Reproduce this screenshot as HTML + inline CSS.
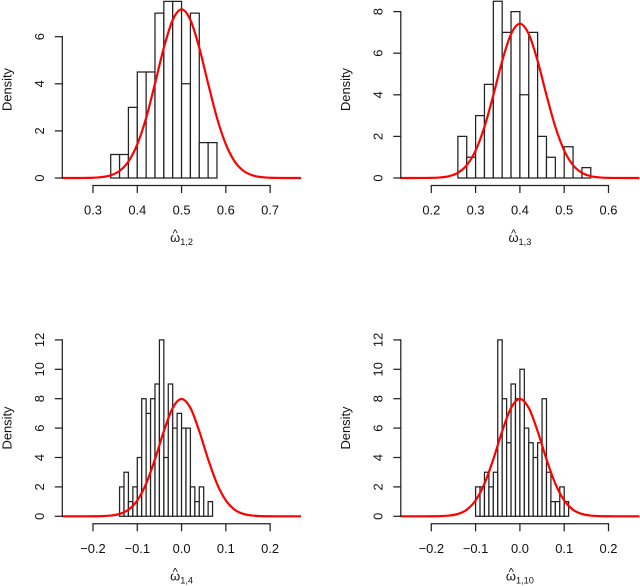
<!DOCTYPE html>
<html>
<head>
<meta charset="utf-8">
<title>Histograms</title>
<style>
html,body{margin:0;padding:0;background:#fff;}
svg{display:block;filter:blur(0.3px);}
text{font-family:"Liberation Sans",sans-serif;fill:#111;}
</style>
</head>
<body>
<svg id="chart" width="640" height="586" viewBox="0 0 640 586" xmlns="http://www.w3.org/2000/svg"></svg>
<script>
// Panel 1 data
const p1Start = 0.34;
const p1Width = 0.02;
const p1Heights = [1,1,3,4.5,4.5,7,7.5,7.5,4,7,1.5,1.5];
const p1CurveX = [0.23,0.24,0.26,0.28,0.30,0.32,0.34,0.36,0.38,0.40,0.42,0.44,0.46,0.48,0.50,0.52,0.54,0.56,0.58,0.60,0.62,0.64,0.66,0.68,0.70,0.72,0.74,0.76,0.77];
const p1CurveY = [0,0,0.001,0.003,0.011,0.039,0.115,0.30,0.70,1.43,2.55,4.01,5.53,6.71,7.16,6.71,5.53,4.01,2.55,1.43,0.70,0.30,0.115,0.039,0.011,0.003,0.001,0,0];
const p1XTicks = [0.3,0.4,0.5,0.6,0.7];
const p1XLabels = ["0.3","0.4","0.5","0.6","0.7"];
const p1YTicks = [0,2,4,6];

// Panel 2 data
const p2Start = 0.26;
const p2Width = 0.02;
const p2Heights = [2,1,3,4.5,8.5,7,8,4,7,2,1,0,1.5,0,0.5];
const p2CurveX = [0.13,0.14,0.16,0.18,0.20,0.22,0.24,0.26,0.28,0.30,0.32,0.34,0.36,0.38,0.40,0.42,0.44,0.46,0.48,0.50,0.52,0.54,0.56,0.58,0.60,0.62,0.64,0.66,0.67];
const p2CurveY = [0,0,0,0.002,0.007,0.027,0.089,0.251,0.617,1.32,2.46,3.98,5.63,6.92,7.42,6.92,5.63,3.98,2.46,1.32,0.617,0.251,0.089,0.027,0.007,0.002,0,0,0];
const p2XTicks = [0.2,0.3,0.4,0.5,0.6];
const p2XLabels = ["0.2","0.3","0.4","0.5","0.6"];
const p2YTicks = [0,2,4,6,8];

// Panel 3 data
const p3Start = -0.14;
const p3Width = 0.01;
const p3Heights = [2,3,1,2,4,8,7,8,9,12,4,9,6,7,6,6,2,1,2,0,1];
const p3CurveX = [-0.27,-0.26,-0.24,-0.22,-0.20,-0.18,-0.16,-0.14,-0.12,-0.10,-0.08,-0.06,-0.04,-0.02,0,0.02,0.04,0.06,0.08,0.10,0.12,0.14,0.16,0.18,0.20,0.22,0.24,0.26,0.27];
const p3CurveY = [0,0,0,0,0.002,0.012,0.048,0.158,0.448,1.08,2.22,3.88,5.79,7.37,7.98,7.37,5.79,3.88,2.22,1.08,0.448,0.158,0.048,0.012,0.002,0,0,0,0];
const p3XTicks = [-0.2,-0.1,0,0.1,0.2];
const p3XLabels = ["\u22120.2","\u22120.1","0.0","0.1","0.2"];
const p3YTicks = [0,2,4,6,8,10,12];

// Panel 4 data
const p4Start = -0.10;
const p4Width = 0.01;
const p4Heights = [2,2,3,2,3,12,8,5,9,8,10,6,5,4,5,8,3,1,1,2,1];
const p4CurveX = [-0.27,-0.26,-0.24,-0.22,-0.20,-0.18,-0.16,-0.14,-0.12,-0.10,-0.08,-0.06,-0.04,-0.02,0,0.02,0.04,0.06,0.08,0.10,0.12,0.14,0.16,0.18,0.20,0.22,0.24,0.26,0.27];
const p4CurveY = [0,0,0,0,0.002,0.012,0.048,0.158,0.448,1.08,2.22,3.88,5.79,7.37,7.98,7.37,5.79,3.88,2.22,1.08,0.448,0.158,0.048,0.012,0.002,0,0,0,0];
const p4XTicks = [-0.2,-0.1,0,0.1,0.2];
const p4XLabels = ["\u22120.2","\u22120.1","0.0","0.1","0.2"];
const p4YTicks = [0,2,4,6,8,10,12];

const NS = "http://www.w3.org/2000/svg";
const root = document.getElementById("chart");
const FONT = 12.9;
const INK = "#222";
const LINE = 1.25;

function make(tag, attrs, parent){
  const el = document.createElementNS(NS, tag);
  for (const k in attrs) el.setAttribute(k, attrs[k]);
  parent.appendChild(el);
  return el;
}

function drawPanel(cfg){
  const g = make("g", {}, root);
  
  
  const sx = v => cfg.x0 + (v - cfg.v0) * cfg.kx;
  const sy = v => cfg.y0 - v * cfg.ky;

  // histogram bars (paths, so empty bins still draw their baseline)
  cfg.heights.forEach((h, i) => {
    const a = sx(cfg.start + i * cfg.width);
    const b = sx(cfg.start + (i + 1) * cfg.width);
    const barPath = "M" + a + " " + sy(0) + " V" + sy(h) + " H" + b + " V" + sy(0) + " Z";
    const bar = make("path", {d:barPath, fill:"#fff", stroke:INK, "stroke-width":LINE}, g);
    
    
  });

  // density curve (Catmull-Rom through read-off points)
  const pts = cfg.curveX.map((x, i) => [sx(x), sy(cfg.curveY[i])]);
  let d = "M" + pts[0][0] + " " + pts[0][1];
  for (let i = 0; i < pts.length - 1; i++){
    const p0 = pts[Math.max(i-1,0)], p1 = pts[i], p2 = pts[i+1], p3 = pts[Math.min(i+2,pts.length-1)];
    d += " C" + (p1[0]+(p2[0]-p0[0])/6) + " " + (p1[1]+(p2[1]-p0[1])/6) + " " +
         (p2[0]-(p3[0]-p1[0])/6) + " " + (p2[1]-(p3[1]-p1[1])/6) + " " + p2[0] + " " + p2[1];
  }
  const curve = make("path", {d:d, fill:"none", stroke:"#f00", "stroke-width":2.2}, g);
  
  

  // x axis
  const xa = make("g", {stroke:INK, "stroke-width":LINE}, g);
  
  
  const first = sx(cfg.xTicks[0]), last = sx(cfg.xTicks[cfg.xTicks.length-1]);
  make("line", {x1:first, x2:last, y1:cfg.y0+7.5, y2:cfg.y0+7.5, "stroke-linecap":"square"}, xa);
  cfg.xTicks.forEach((t, i) => {
    make("line", {x1:sx(t), x2:sx(t), y1:cfg.y0+7.5, y2:cfg.y0+15}, xa);
    const lab = make("text", {x:sx(t), y:cfg.y0+36.7, "text-anchor":"middle", "font-size":FONT, stroke:"none"}, xa);
    lab.textContent = cfg.xLabels[i];
    
    
  });

  // y axis
  const ya = make("g", {stroke:INK, "stroke-width":LINE}, g);
  
  
  const yTop = sy(cfg.yTicks[cfg.yTicks.length-1]);
  make("line", {x1:cfg.axisX, x2:cfg.axisX, y1:sy(0), y2:yTop, "stroke-linecap":"square"}, ya);
  cfg.yTicks.forEach(t => {
    make("line", {x1:cfg.axisX-7.5, x2:cfg.axisX, y1:sy(t), y2:sy(t)}, ya);
    const lx = cfg.axisX - 18.5;
    const lab = make("text", {x:lx, y:sy(t), "text-anchor":"middle", "font-size":FONT, stroke:"none", transform:"rotate(-90 "+lx+" "+sy(t)+")"}, ya);
    lab.textContent = String(t);
    
    
  });

  // y axis title
  const tx = cfg.axisX - 51, ty = cfg.titleY;
  const yt = make("text", {x:tx, y:ty, "text-anchor":"middle", "font-size":FONT, transform:"rotate(-90 "+tx+" "+ty+")"}, g);
  yt.textContent = "Density";
  
  

  // x axis title
  const cx = sx(cfg.center);
  const xt = make("text", {x:cx, y:cfg.y0+64, "text-anchor":"middle", "font-size":FONT}, g);
  
  
  const om = make("tspan", {}, xt);
  om.textContent = "\u03C9";
  const sub = make("tspan", {dy:3, "font-size":9.2}, xt);
  sub.textContent = cfg.sub;
  const hat = make("text", {x:cx - cfg.hatShift, y:cfg.y0+59, "text-anchor":"middle", "font-size":11}, g);
  hat.textContent = "^";
  
  
}

drawPanel({name:"panel-omega-1-2", x0:93, v0:0.3, kx:442.8, y0:178, ky:23.55, axisX:62.3,
  start:p1Start, width:p1Width, heights:p1Heights, curveX:p1CurveX, curveY:p1CurveY,
  xTicks:p1XTicks, xLabels:p1XLabels, yTicks:p1YTicks, center:0.5, sub:"1,2", hatShift:6.3, titleY:89.5});
drawPanel({name:"panel-omega-1-3", x0:431.3, v0:0.2, kx:443, y0:178, ky:20.8, axisX:400.8,
  start:p2Start, width:p2Width, heights:p2Heights, curveX:p2CurveX, curveY:p2CurveY,
  xTicks:p2XTicks, xLabels:p2XLabels, yTicks:p2YTicks, center:0.4, sub:"1,3", hatShift:6.3, titleY:89.5});
drawPanel({name:"panel-omega-1-4", x0:93, v0:-0.2, kx:442.8, y0:516.3, ky:14.7, axisX:62.3,
  start:p3Start, width:p3Width, heights:p3Heights, curveX:p3CurveX, curveY:p3CurveY,
  xTicks:p3XTicks, xLabels:p3XLabels, yTicks:p3YTicks, center:0, sub:"1,4", hatShift:6.3, titleY:428});
drawPanel({name:"panel-omega-1-10", x0:431.3, v0:-0.2, kx:443, y0:516.3, ky:14.7, axisX:400.8,
  start:p4Start, width:p4Width, heights:p4Heights, curveX:p4CurveX, curveY:p4CurveY,
  xTicks:p4XTicks, xLabels:p4XLabels, yTicks:p4YTicks, center:0, sub:"1,10", hatShift:8.7, titleY:428});
</script>
</body>
</html>
